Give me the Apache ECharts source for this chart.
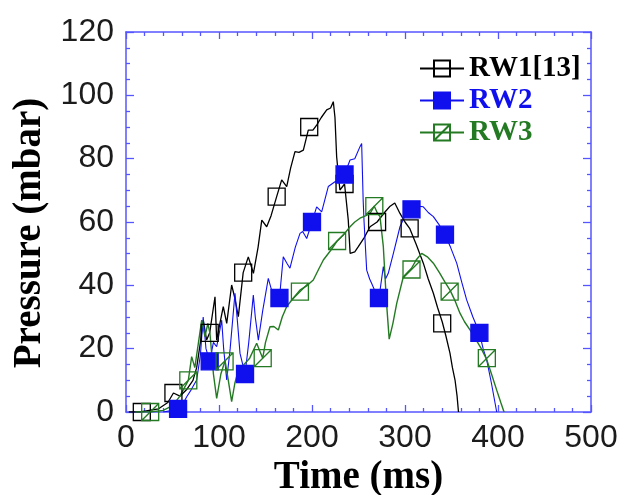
<!DOCTYPE html>
<html>
<head>
<meta charset="utf-8">
<script src="https://cdn.jsdelivr.net/npm/echarts@6/dist/echarts.min.js"></script>
<style>
  html, body { margin: 0; padding: 0; background: #fff; }
  #chart { width: 632px; height: 495px; }
</style>
</head>
<body>
<div id="chart"></div>
<script>
// Axis ticks
const xTicks = [0, 100, 200, 300, 400, 500];
const yTicks = [0, 20, 40, 60, 80, 100, 120];

// Series names
const seriesNames = ['RW1[13]', 'RW2', 'RW3'];

// RW1[13] pressure trace [time ms, pressure mbar]
const rw1Curve = [
  [3,0],[15,0],[25,0.5],[35,1],[45,3],[51,6],[58,5],[65,7],[72,10],[76,14],[80,22],[83,29],
  [86.7,22.7],[90,25],[95.7,36.4],[97.5,22.7],[101,28],[104.6,33.3],[108.3,28],[113.6,40.1],
  [117,36],[120.8,30.1],[126,44],[131.5,49],[137,43.8],[142,52],[146,60.6],[151.3,58.5],
  [156,62],[162,68],[167.4,73.3],[172.8,71.2],[177,77],[181.7,82.2],[186,82],[190.7,82.7],
  [196,89],[201,89],[205,90.6],[210,93],[215.8,95.4],[220,96],[222.9,98],[224.7,93],
  [226.5,80.6],[230,70.1],[235,72],[239,60.6],[241,50.1],[246,50.6],[249.8,52.2],[256,55],
  [262.4,58.5],[270,60],[278,63],[284,65],[289,66],[294.6,62.7],[300,60],[305,58],[312,53],
  [319.7,47],[325,42],[330.5,37.5],[335,33],[340,28.5],[344,24],[348.4,18.5],[351,14],
  [353.8,10.1],[356,5],[357.5,0]
];
const rw1Markers = [[17,0],[51,6],[90,25],[126,44],[162,68],[197,90],[235,72],[270,60],[305,58],[340,28]];

// RW2 pressure trace
const rw2Curve = [
  [40,0],[50,0.5],[56,1],[60,2],[65.3,4.8],[70,7],[76,10.1],[80,18],[83,30],[86,20],[90,16],
  [94,22],[97.5,20.6],[102.9,29],[105,20],[108.3,10.1],[112,20],[117.2,37.5],[120,28],
  [122.6,18.5],[128,12],[132,22],[136.9,36.9],[139,30],[142.3,22.7],[147,32],[153,42.2],
  [157,38],[160.2,33.3],[165,36],[169.1,49],[173,47],[176.3,45.4],[182,52],[187.1,56.4],
  [190,57],[194.3,54.8],[200,60],[205,64.8],[210.4,63.2],[217.5,71.2],[224.7,72.7],[230,73],
  [235,75],[240.9,79.6],[246,80],[251.6,83.8],[253.4,84.8],[255,67],[256,60],[258.8,44.8],
  [262,42],[264.2,40.6],[268,38],[272,36],[276.7,45.9],[279,42],[282,43.8],[287.5,50.1],
  [294.6,58.5],[300,62],[307,64],[313,65],[319.7,64.8],[325,63],[330.5,61.7],[337,59],
  [343,56],[349,52],[355.6,47],[361,41],[366.3,35.4],[373,30],[380,25],[384,20],[387.9,16.4],
  [393,9],[398.6,0]
];
const rw2Markers = [[56,1],[90,16],[128,12],[165,36],[200,60],[235,75],[272,36],[307,64],[343,56],[380,25]];

// RW3 pressure trace
const rw3Curve = [
  [10,0],[26,0],[40,0.5],[50,2],[58,5],[67,10],[70.6,17.5],[74,14],[77.8,21.7],[81.4,29],
  [84.9,23.8],[88,28],[90.3,24.8],[94,12],[97.5,4.3],[102,12],[106.5,16.2],[110,10],
  [113.6,3.3],[117,9],[120.8,13.3],[126.2,14.8],[133,17],[140.5,21.7],[147,17],[150,22],
  [154.8,26.9],[159,27],[163.8,25.9],[168,30],[172.8,33.3],[180,36],[187,38.5],[195,40],
  [201.4,41.7],[207,45],[212.2,48],[220,51],[227,54],[234,56],[240.9,58.5],[246,60],
  [251.6,61.2],[258,62],[263,63],[267,65],[270,63],[273.1,61.7],[276.7,52.2],[280,35],
  [283,23],[287,28],[291.1,34.3],[298.2,42.7],[307,45.4],[312,48],[317.9,50.1],[324,49],
  [330.5,47],[337,44],[343,41],[348.4,38.5],[354,35],[359.1,31.2],[364,28.5],[369.9,25.9],
  [376,23],[382,20],[387.8,16.6],[393,12],[398.6,6.9],[403,3],[406.5,0]
];
const rw3Markers = [[26,0],[67,10],[106,16],[147,17],[187,38],[227,54],[267,65],[307,45],[348,38],[388,17]];

const FRAME = '#5656ff';
const BLACK = '#000000';
const BLUE = '#1010ee';
const GREEN = '#237a23';
const SQUARE_SLASH = 'path://M0,0H20V20H0Z M0,20L20,0';

const tickFont = { fontFamily: 'Liberation Sans, Arial, sans-serif', fontSize: 32, color: '#1c1c1c' };
const titleFont = { fontFamily: 'Liberation Serif, Times New Roman, serif', fontSize: 39, fontWeight: 'bold', color: '#000' };

function xAxisDef(position, showLabel, name) {
  return {
    type: 'value', position: position,
    min: xTicks[0], max: xTicks[xTicks.length - 1], interval: xTicks[1] - xTicks[0],
    name: name || '', nameLocation: 'middle', nameGap: 40, nameTextStyle: titleFont,
    axisLine: { show: true, onZero: false, lineStyle: { color: FRAME, width: 1.5 } },
    axisTick: { show: true, inside: true, length: 7, lineStyle: { color: FRAME, width: 1.3 } },
    minorTick: { show: true, splitNumber: 5, length: 4, lineStyle: { color: FRAME, width: 1.3 } },
    axisLabel: Object.assign({ show: showLabel, margin: 10 }, tickFont),
    splitLine: { show: false }
  };
}
function yAxisDef(position, showLabel, name) {
  return {
    type: 'value', position: position,
    min: yTicks[0], max: yTicks[yTicks.length - 1], interval: yTicks[1] - yTicks[0],
    name: name || '', nameLocation: 'middle', nameGap: 74,
    nameTextStyle: Object.assign({ padding: [0, 22, 0, 0] }, titleFont),
    axisLine: { show: true, onZero: false, lineStyle: { color: FRAME, width: 1.5 } },
    axisTick: { show: true, inside: true, length: 8, lineStyle: { color: FRAME, width: 1.3 } },
    minorTick: { show: true, splitNumber: 4, length: 4, lineStyle: { color: FRAME, width: 1.3 } },
    axisLabel: Object.assign({ show: showLabel, margin: 12, padding: [0, 0, 6, 0] }, tickFont),
    splitLine: { show: false }
  };
}

function traceSeries(name, data, color, width, symbol, fill) {
  return {
    type: 'line', name: name, data: data,
    xAxisIndex: 0, yAxisIndex: 0,
    showSymbol: false, symbol: symbol, symbolSize: 17,
    lineStyle: { color: color, width: width },
    itemStyle: { color: fill, borderColor: color, borderWidth: 1.3 },
    emphasis: { disabled: true },
    z: 2
  };
}
function markerSeries(data, color, symbol, fill) {
  return {
    type: 'scatter', data: data,
    xAxisIndex: 0, yAxisIndex: 0,
    symbol: symbol, symbolSize: 17, symbolKeepAspect: true,
    itemStyle: { color: fill, borderColor: color, borderWidth: 1.3, opacity: 1 },
    emphasis: { disabled: true },
    z: 3
  };
}

const chart = echarts.init(document.getElementById('chart'), null, { renderer: 'canvas' });
chart.setOption({
  animation: false,
  backgroundColor: '#ffffff',
  grid: { left: 126, right: 41, top: 32, bottom: 83, containLabel: false, outerBoundsMode: 'none' },
  xAxis: [xAxisDef('bottom', true, 'Time (ms)'), xAxisDef('top', false)],
  yAxis: [yAxisDef('left', true, 'Pressure (mbar)'), yAxisDef('right', false)],
  legend: {
    orient: 'vertical', left: 414, top: 49,
    itemWidth: 44, itemHeight: 20, itemGap: 3,
    selectedMode: false,
    textStyle: { fontFamily: 'Liberation Serif, Times New Roman, serif', fontSize: 29, fontWeight: 'bold' },
    data: [
      { name: seriesNames[0], textStyle: { color: BLACK } },
      { name: seriesNames[1], textStyle: { color: BLUE } },
      { name: seriesNames[2], textStyle: { color: GREEN } }
    ]
  },
  series: [
    traceSeries(seriesNames[0], rw1Curve, BLACK, 1.3, 'rect', 'rgba(0,0,0,0)'),
    traceSeries(seriesNames[1], rw2Curve, BLUE, 1.1, 'rect', BLUE),
    traceSeries(seriesNames[2], rw3Curve, GREEN, 1.4, SQUARE_SLASH, 'rgba(0,0,0,0)'),
    markerSeries(rw1Markers, BLACK, 'rect', 'rgba(0,0,0,0)'),
    markerSeries(rw2Markers, BLUE, 'rect', BLUE),
    markerSeries(rw3Markers, GREEN, SQUARE_SLASH, 'rgba(0,0,0,0)')
  ]
});
</script>
</body>
</html>
